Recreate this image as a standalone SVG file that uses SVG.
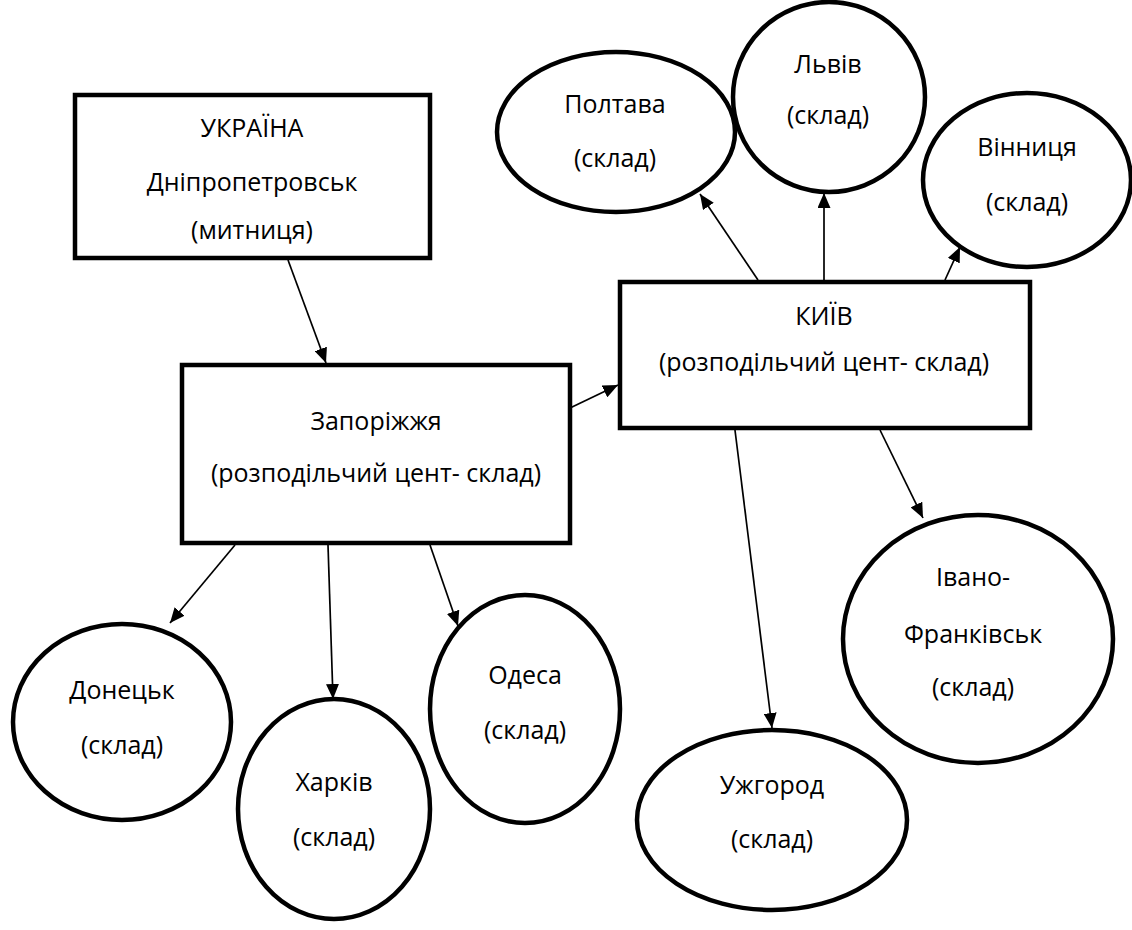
<svg xmlns="http://www.w3.org/2000/svg" width="1132" height="930" viewBox="0 0 1132 930">
<style>
  .box { fill: #ffffff; stroke: #000000; stroke-width: 4.5; }
  .oval { fill: #ffffff; stroke: #000000; stroke-width: 4.5; }
  .lbl { font-family: "Open Sans", "Noto Sans", "Liberation Sans", sans-serif; font-size: 25px; fill: #000000; text-anchor: middle; }
  .conn { stroke: #000000; stroke-width: 1.7; fill: none; marker-end: url(#arr); }
</style>
<defs>
  <marker id="arr" markerUnits="userSpaceOnUse" markerWidth="15" markerHeight="13" refX="15" refY="6.5" orient="auto">
    <path d="M0,0 L15,6.5 L0,13 z" fill="#000000"/>
  </marker>
</defs>
<rect width="1132" height="930" fill="#ffffff"/>

<g id="connectors">
  <line class="conn" x1="288" y1="260" x2="326" y2="363"/>
  <line class="conn" x1="570" y1="408" x2="618" y2="385"/>
  <line class="conn" x1="235" y1="545" x2="170" y2="623"/>
  <line class="conn" x1="328" y1="545" x2="333" y2="699"/>
  <line class="conn" x1="430" y1="545" x2="458" y2="626"/>
  <line class="conn" x1="758" y1="280" x2="700" y2="194"/>
  <line class="conn" x1="824" y1="280" x2="824" y2="193"/>
  <line class="conn" x1="945" y1="280" x2="960" y2="247"/>
  <line class="conn" x1="735" y1="430" x2="772" y2="728"/>
  <line class="conn" x1="880" y1="430" x2="923" y2="518"/>
</g>

<g id="ukraina">
  <rect class="box" x="75" y="95" width="355" height="163"/>
  <text class="lbl" x="252" y="137">УКРАЇНА</text>
  <text class="lbl" x="252" y="191">Дніпропетровськ</text>
  <text class="lbl" x="252" y="239">(митниця)</text>
</g>

<g id="zaporizhzhia">
  <rect class="box" x="182" y="365" width="388" height="178"/>
  <text class="lbl" x="376" y="430">Запоріжжя</text>
  <text class="lbl" x="376" y="482">(розподільчий цент- склад)</text>
</g>

<g id="kyiv">
  <rect class="box" x="620" y="282" width="410" height="146"/>
  <text class="lbl" x="824" y="325">КИЇВ</text>
  <text class="lbl" x="824" y="371">(розподільчий цент- склад)</text>
</g>

<g id="poltava">
  <ellipse class="oval" cx="616" cy="132" rx="119" ry="80"/>
  <text class="lbl" x="615" y="113">Полтава</text>
  <text class="lbl" x="615" y="167">(склад)</text>
</g>

<g id="lviv">
  <ellipse class="oval" cx="829" cy="97" rx="96" ry="95"/>
  <text class="lbl" x="828" y="73">Львів</text>
  <text class="lbl" x="828" y="124">(склад)</text>
</g>

<g id="vinnytsia">
  <ellipse class="oval" cx="1027" cy="180" rx="104" ry="87"/>
  <text class="lbl" x="1027" y="156">Вінниця</text>
  <text class="lbl" x="1027" y="211">(склад)</text>
</g>

<g id="donetsk">
  <ellipse class="oval" cx="122" cy="722" rx="109" ry="98"/>
  <text class="lbl" x="122" y="699">Донецьк</text>
  <text class="lbl" x="122" y="754">(склад)</text>
</g>

<g id="kharkiv">
  <ellipse class="oval" cx="334" cy="809" rx="96" ry="110"/>
  <text class="lbl" x="334" y="791">Харків</text>
  <text class="lbl" x="334" y="846">(склад)</text>
</g>

<g id="odesa">
  <ellipse class="oval" cx="525" cy="709" rx="95" ry="114"/>
  <text class="lbl" x="525" y="684">Одеса</text>
  <text class="lbl" x="525" y="739">(склад)</text>
</g>

<g id="uzhhorod">
  <ellipse class="oval" cx="772" cy="820" rx="135" ry="90"/>
  <text class="lbl" x="772" y="794">Ужгород</text>
  <text class="lbl" x="772" y="848">(склад)</text>
</g>

<g id="ivano-frankivsk">
  <ellipse class="oval" cx="978" cy="639" rx="135" ry="124"/>
  <text class="lbl" x="973" y="586">Івано-</text>
  <text class="lbl" x="973" y="643">Франківськ</text>
  <text class="lbl" x="973" y="696">(склад)</text>
</g>
</svg>
